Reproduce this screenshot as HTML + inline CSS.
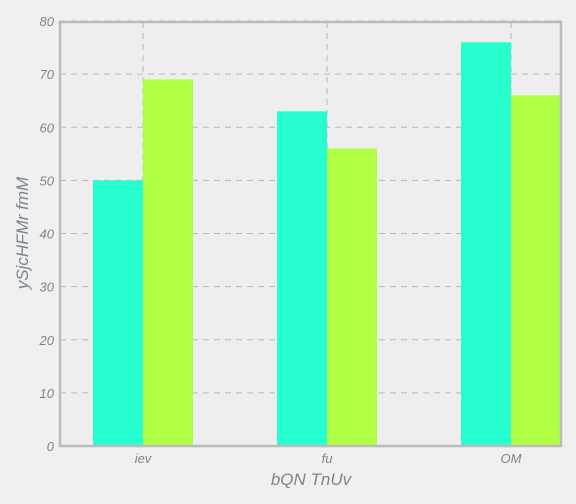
<!DOCTYPE html>
<html><head><meta charset="utf-8"><style>
body{margin:0;background:#f0f0f0;}
svg{display:block;font-family:"Liberation Sans",sans-serif;font-style:italic;}
</style></head><body>
<svg id="chart" width="576" height="504">
<rect x="0" y="0" width="576" height="504" fill="#f0f0f0"/>
<rect x="60" y="22" width="501" height="424" fill="#eeeeee"/>
<g id="grid"></g><g id="bars"></g><g id="ticks"></g>
<rect x="60" y="22" width="501" height="424" fill="none" stroke="#bbbbbb" stroke-width="2.5"/>
<text x="311" y="485" text-anchor="middle" font-size="17" fill="#7a8590">bQN TnUv</text>
<text transform="translate(28,233) rotate(-90)" text-anchor="middle" font-size="17" fill="#7a8590">ySjcHFMr fmM</text>
</svg>
<script>
const categories=["iev","fu","OM"];
const series1=[50,63,76];
const series2=[69,56,66];
const yTicks=[0,10,20,30,40,50,60,70,80];
const NS="http://www.w3.org/2000/svg";
const y=v=>446-v*(425/80);
const x=i=>143+184*i;
const bw=50;
function mk(t,a,p){const e=document.createElementNS(NS,t);for(const k in a)e.setAttribute(k,a[k]);p.appendChild(e);return e;}
const grid=document.getElementById('grid'),bars=document.getElementById('bars'),ticks=document.getElementById('ticks');
yTicks.forEach(v=>{
 const l=mk('line',{x1:60,x2:561,y1:y(v),y2:y(v),stroke:'#b8b8b8','stroke-dasharray':'6,5'},grid);
 
 
 const t=mk('text',{x:54,y:y(v)+5,'text-anchor':'end','font-size':13,fill:'#7a8590'},ticks);
 t.textContent=v;
 
 
});
categories.forEach((c,i)=>{
 const l=mk('line',{x1:x(i),x2:x(i),y1:22,y2:446,stroke:'#b8b8b8','stroke-dasharray':'6,5'},grid);
 
 
 const b1=mk('rect',{x:x(i)-bw,y:y(series1[i]),width:bw,height:446-y(series1[i]),fill:'#27ffd0'},bars);
 
 
 const b2=mk('rect',{x:x(i),y:y(series2[i]),width:bw,height:446-y(series2[i]),fill:'#b0ff45'},bars);
 
 
 const t=mk('text',{x:x(i),y:463,'text-anchor':'middle','font-size':13,fill:'#7a8590'},ticks);
 t.textContent=c;
 
 
});
</script>
</body></html>
